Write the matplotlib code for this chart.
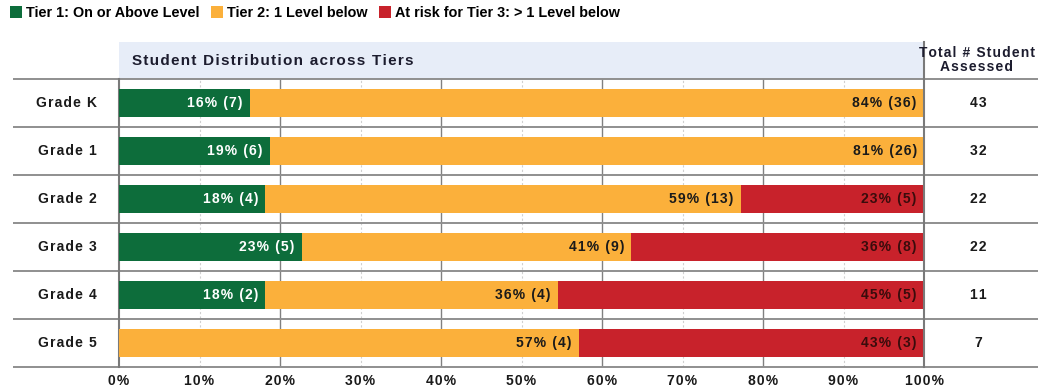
import numpy as np
import matplotlib
matplotlib.use("Agg")
import matplotlib.pyplot as plt
from matplotlib.patches import Patch, Rectangle

# ---- data ----
grades = ["Grade K", "Grade 1", "Grade 2", "Grade 3", "Grade 4", "Grade 5"]
tier1_counts = [7, 6, 4, 5, 2, 0]
tier2_counts = [36, 26, 13, 9, 4, 4]
tier3_counts = [0, 0, 5, 8, 5, 3]
totals = [43, 32, 22, 22, 11, 7]
tier_names = ["Tier 1: On or Above Level", "Tier 2: 1 Level below",
              "At risk for Tier 3: > 1 Level below"]
xticks = [0, 10, 20, 30, 40, 50, 60, 70, 80, 90, 100]
xtick_labels = ["0%", "10%", "20%", "30%", "40%", "50%", "60%", "70%", "80%", "90%", "100%"]

colors = ["#0d6d3b", "#fbb03b", "#c8222b"]
label_colors = ["white", "#1a1a1a", "#3a0c0c"]

W, H = 1038, 388
fig = plt.figure(figsize=(W / 100, H / 100), dpi=100)
ax = fig.add_axes([119 / W, (H - 367) / H, (924 - 119) / W, (367 - 79) / H])
ax.set_xlim(0, 100)
ax.set_ylim(5.5, -0.5)
for s in ax.spines.values():
    s.set_visible(False)

PX = 8.05   # pixels per percent
ROW = 48.0  # pixels per row


def px2x(px):
    return (px - 119) / PX


def py2y(py):
    return -0.5 + (py - 79) / ROW


def tr(s):
    # letter-spaced text via hair spaces
    return "\u200a".join(s)


TF = ["Liberation Sans", "DejaVu Sans"]
TS = 10

# header band
ax.add_patch(Rectangle((0, py2y(42)), 100, py2y(79) - py2y(42),
                       facecolor="#e7edf8", edgecolor="none", zorder=0, clip_on=False))
ax.text(px2x(132), py2y(61), tr("Student Distribution across Tiers"), fontfamily=TF,
        fontweight="bold", fontsize=11, color="#1c1c2e", va="center", ha="left")
ax.text(px2x(977), py2y(60), tr("Total # Student") + "\n" + tr("Assessed"), fontfamily=TF,
        fontweight="bold", fontsize=TS, color="#1c1c2e", va="center", ha="center",
        linespacing=0.95, clip_on=False, zorder=5)

# grid lines
for v in [10, 30, 50, 70, 90]:
    ax.axvline(v, color="#d0d0d0", lw=0.8, ls=(0, (2, 2)), zorder=0.5)
for v in [20, 40, 60, 80]:
    ax.axvline(v, color="#808080", lw=1.0, zorder=0.6)

# separators
for i in range(len(grades) + 1):
    yy = -0.5 + i
    ax.plot([px2x(13), px2x(1038)], [yy, yy], color="#8f8f8f", lw=1.4,
            clip_on=False, zorder=1, solid_capstyle="butt")
ax.plot([0, 0], [-0.5, 5.5], color="#7a7a7a", lw=1.5, clip_on=False, zorder=1)
ax.plot([100, 100], [py2y(42), 5.5], color="#7a7a7a", lw=1.5, clip_on=False, zorder=3)

# bars
y = np.arange(len(grades))
t1 = np.array(tier1_counts) / np.array(totals) * 100
t2 = np.array(tier2_counts) / np.array(totals) * 100
t3 = np.array(tier3_counts) / np.array(totals) * 100
lefts = [np.zeros(len(grades)), t1, t1 + t2]
counts = [tier1_counts, tier2_counts, tier3_counts]
pcts = [t1, t2, t3]
for k in range(3):
    ax.barh(y, pcts[k], left=lefts[k], height=0.57, color=colors[k], zorder=2,
            edgecolor="none")
    for i in range(len(grades)):
        if counts[k][i] > 0:
            end = lefts[k][i] + pcts[k][i]
            ax.text(end - 0.9, y[i], tr(f"{pcts[k][i]:.0f}% ({counts[k][i]})"),
                    ha="right", va="center", fontfamily=TF, fontweight="bold",
                    fontsize=TS, color=label_colors[k], zorder=4)

# row labels and totals
for i in range(len(grades)):
    ax.text(px2x(67), y[i], tr(grades[i]), ha="center", va="center", fontfamily=TF,
            fontweight="bold", fontsize=TS, color="#1a1a1a", clip_on=False)
    ax.text(px2x(978), y[i], tr(str(totals[i])), ha="center", va="center", fontfamily=TF,
            fontweight="bold", fontsize=TS, color="#1a1a1a", clip_on=False)

ax.set_yticks([])
ax.set_xticks(xticks)
ax.set_xticklabels([tr(t) for t in xtick_labels], fontfamily=TF, fontweight="bold",
                   fontsize=TS, color="#1a1a1a")
ax.tick_params(axis="x", length=0, pad=5)

# legend
handles = [Patch(facecolor=c, edgecolor="none", label=n) for c, n in zip(colors, tier_names)]
fig.legend(handles=handles, loc="upper left", bbox_to_anchor=(0.004, 1.0), ncol=3,
           frameon=False, handlelength=0.85, handleheight=0.95, handletextpad=0.3,
           columnspacing=0.75, borderaxespad=0.25, borderpad=0.15,
           prop={"family": "Liberation Sans", "weight": "bold", "size": 10.35})

fig.savefig("out.png", dpi=100)
